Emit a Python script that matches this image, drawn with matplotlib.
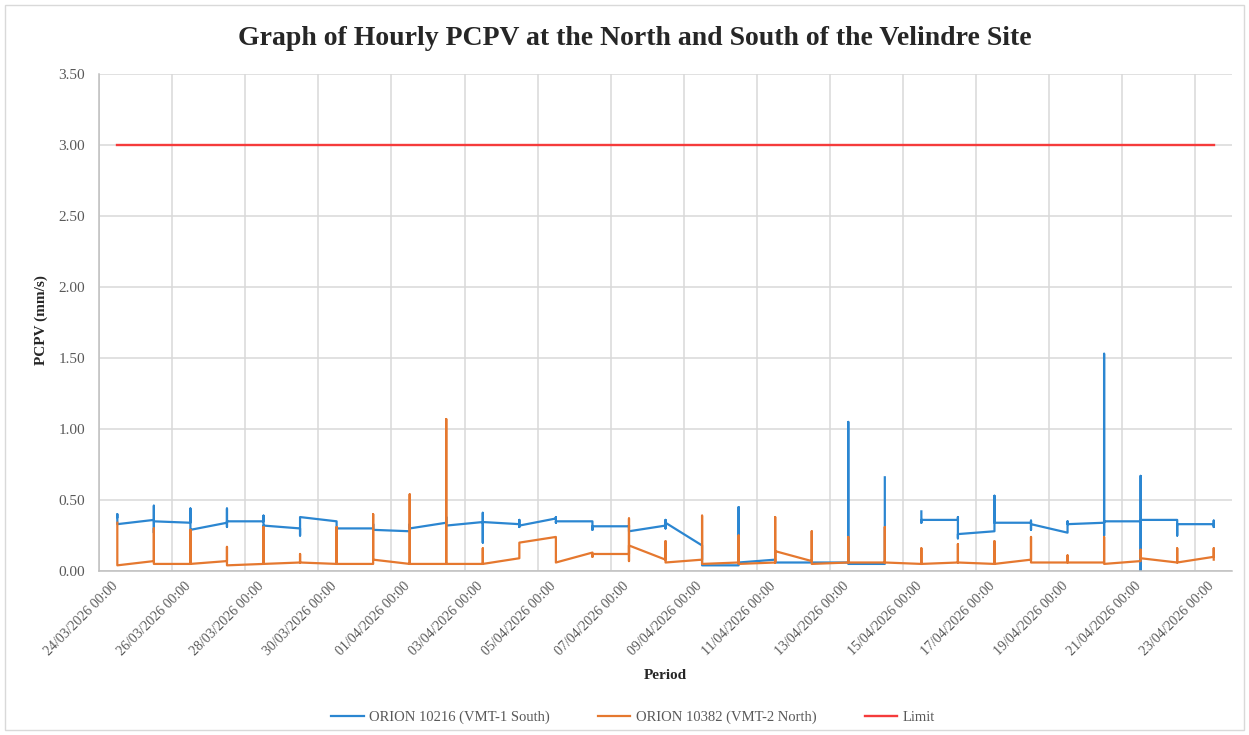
import numpy as np
import matplotlib
matplotlib.use("Agg")
import matplotlib.pyplot as plt
import matplotlib.dates as mdates
import matplotlib.transforms as mtransforms
from matplotlib.patches import Rectangle
from datetime import datetime, timedelta

plt.rcParams['font.family'] = ['Liberation Serif', 'DejaVu Serif']

# one x position per day (Excel collapsed the hourly readings onto the day),
# each inner list is the path of PCPV readings drawn through that day
first_reading = datetime(2026, 3, 24, 12)
n_days = 31

south_values = [
    [0.38, 0.40, 0.33], [0.36, 0.46, 0.27, 0.35], [0.34, 0.44, 0.28, 0.29],
    [0.34, 0.44, 0.31, 0.35], [0.35, 0.39, 0.30, 0.32], [0.30, 0.25, 0.38],
    [0.35, 0.29, 0.30], [0.30, 0.33, 0.29], [0.28, 0.33, 0.30],
    [0.34, 0.38, 0.32], [0.345, 0.41, 0.20, 0.345], [0.33, 0.36, 0.31, 0.32],
    [0.37, 0.38, 0.34, 0.35], [0.35, 0.29, 0.315], [0.315, 0.32, 0.28],
    [0.32, 0.36, 0.30, 0.34], [0.18, 0.10, 0.04], [0.04, 0.45, 0.06],
    [0.08, 0.06], [0.06, 0.06], [0.06, 1.05, 0.05],
    [0.05, 0.66, np.nan],  # no readings until the next day
    [0.42, 0.34, 0.36], [0.36, 0.38, 0.23, 0.26], [0.28, 0.53, 0.34],
    [0.34, 0.355, 0.29, 0.33], [0.27, 0.35, 0.33], [0.34, 1.53, 0.25, 0.35],
    [0.35, 0.67, 0.00, 0.36], [0.36, 0.25, 0.33], [0.33, 0.355, 0.31, 0.33],
]

north_values = [
    [0.34, 0.08, 0.04], [0.07, 0.30, 0.05], [0.05, 0.29, 0.05],
    [0.07, 0.17, 0.04], [0.05, 0.31, 0.05], [0.06, 0.12, 0.06],
    [0.05, 0.31, 0.05], [0.05, 0.40, 0.08], [0.05, 0.54, 0.05],
    [0.05, 1.07, 0.05], [0.05, 0.16, 0.05], [0.09, 0.20],
    [0.24, 0.23, 0.06], [0.13, 0.10, 0.12], [0.12, 0.37, 0.07, 0.18],
    [0.08, 0.21, 0.06], [0.08, 0.39, 0.05], [0.06, 0.25, 0.05],
    [0.06, 0.38, 0.06, 0.14], [0.07, 0.28, 0.05], [0.06, 0.24, 0.06],
    [0.06, 0.31, 0.06], [0.05, 0.16, 0.05], [0.06, 0.19, 0.06],
    [0.05, 0.21, 0.05], [0.08, 0.24, 0.06], [0.06, 0.11, 0.06],
    [0.06, 0.24, 0.05], [0.07, 0.15, 0.09], [0.06, 0.16, 0.06],
    [0.10, 0.16, 0.08],
]

limit_value = 3.0

series_labels = ['ORION 10216 (VMT-1 South)', 'ORION 10382 (VMT-2 North)', 'Limit']
series_colors = ['#2b86d1', '#e5782f', '#f53b3b']

day_dates = [first_reading + timedelta(days=k) for k in range(n_days)]


def day_path(values_per_day):
    xs, ys = [], []
    for d, vals in zip(day_dates, values_per_day):
        for v in vals:
            xs.append(d)
            ys.append(v)
    return xs, np.array(ys, dtype=float)


fig = plt.figure(figsize=(12.49, 7.35), dpi=100)
ax = fig.add_axes([0.0793, 0.2231, 0.9071, 0.6762])

sx, sy = day_path(south_values)
nx, ny = day_path(north_values)
ax.plot(sx, sy, color=series_colors[0], lw=1.6, label=series_labels[0])
ax.plot(nx, ny, color=series_colors[1], lw=1.6, label=series_labels[1])
ax.plot([day_dates[0], day_dates[-1]], [limit_value, limit_value],
        color=series_colors[2], lw=1.7, label=series_labels[2])

ax.set_xlim(datetime(2026, 3, 24), datetime(2026, 4, 24))
ax.set_ylim(0, 3.5)
ax.set_yticks(np.arange(0, 3.51, 0.5))
ax.yaxis.set_major_formatter(plt.FuncFormatter(lambda v, p: f'{v:.2f}'))
ax.set_xticks([datetime(2026, 3, 24) + timedelta(days=2 * i) for i in range(16)])
ax.xaxis.set_major_formatter(mdates.DateFormatter('%d/%m/%Y %H:%M'))

ax.grid(True, color='#d9d9d9', lw=1.1)
ax.set_axisbelow(True)
for side in ['top', 'right']:
    ax.spines[side].set_visible(False)
for side in ['left', 'bottom']:
    ax.spines[side].set_color('#bfbfbf')
    ax.spines[side].set_linewidth(1.1)

ax.tick_params(axis='both', length=0, labelsize=11, labelcolor='#595959')
ax.tick_params(axis='y', pad=10)
ax.tick_params(axis='x', pad=6, labelsize=10)
shift = mtransforms.ScaledTranslation(12 / 100, 0, fig.dpi_scale_trans)
for lab in ax.get_xticklabels():
    lab.set_rotation(45)
    lab.set_ha('right')
    lab.set_rotation_mode('anchor')
    lab.set_transform(lab.get_transform() + shift)

ax.set_xlabel('Period', fontsize=11, fontweight='bold', color='#262626')
ax.xaxis.set_label_coords(0.5, -0.197)
ax.set_ylabel('PCPV (mm/s)', fontsize=11, fontweight='bold', color='#262626')
ax.yaxis.set_label_coords(-0.045, 0.505)
fig.text(0.508, 0.948, 'Graph of Hourly PCPV at the North and South of the Velindre Site',
         ha='center', va='center', fontsize=20, fontweight='bold', color='#262626')

fig.legend(loc='center', bbox_to_anchor=(0.507, 0.024), ncol=3, frameon=False,
           fontsize=10.5, handlelength=2.2, handletextpad=0.4, columnspacing=3.3,
           labelcolor='#595959')

fig.patches.append(Rectangle((0.004, 0.007), 0.992, 0.986, transform=fig.transFigure,
                             fill=False, edgecolor='#d9d9d9', lw=1))

fig.savefig('out.png', dpi=100, facecolor='white')
